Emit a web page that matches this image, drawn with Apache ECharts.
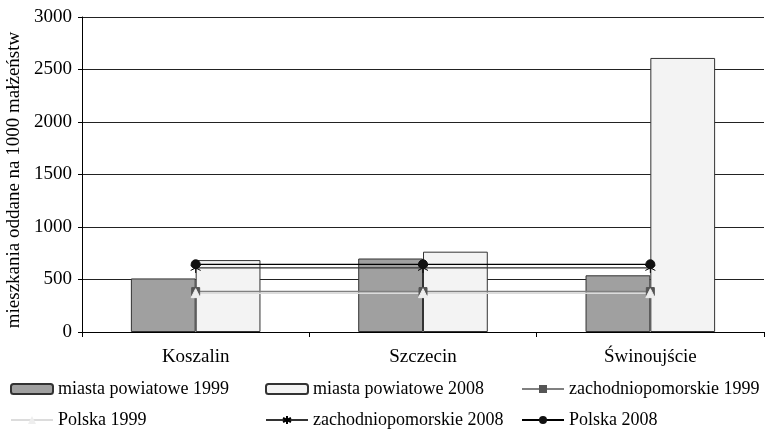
<!DOCTYPE html>
<html><head><meta charset="utf-8">
<script src="https://cdn.jsdelivr.net/npm/echarts@6/dist/echarts.min.js"></script>
<style>html,body{margin:0;padding:0;background:#fff}#c{width:765px;height:430px}</style>
</head><body><div id="c"></div>
<script>
const categories = ['Koszalin', 'Szczecin', 'Świnoujście'];
const miasta1999 = [510, 700, 540];
const miasta2008 = [685, 765, 2610];
const zach1999 = [385, 385, 385];
const polska1999 = [370, 370, 370];
const zach2008 = [610, 610, 610];
const polska2008 = [645, 645, 645];
const yTicks = [0, 500, 1000, 1500, 2000, 2500, 3000];

const FONT = 'Liberation Serif';
const chart = echarts.init(document.getElementById('c'), null, {renderer: 'canvas'});
const star = 'path://M0,-5L0,5M-4.33,-2.5L4.33,2.5M-4.33,2.5L4.33,-2.5';
const legendText = {fontFamily: FONT, fontSize: 18, color: '#000'};
function legendItem(left, top, name) {
  return {orient: 'horizontal', left: left, top: top, padding: 0, itemWidth: 42, itemHeight: 10,
    itemGap: 0, itemTextGap: 5, textStyle: legendText, data: [name], selectedMode: false};
}
chart.setOption({
  animation: false,
  textStyle: {fontFamily: FONT},
  grid: {left: 82, right: 1, top: 17, bottom: 98, containLabel: false, outerBoundsMode: 'none'},
  legend: [
    legendItem(10, 380, 'miasta powiatowe 1999'),
    legendItem(265, 380, 'miasta powiatowe 2008'),
    legendItem(521, 380, 'zachodniopomorskie 1999'),
    legendItem(10, 411, 'Polska 1999'),
    legendItem(265, 411, 'zachodniopomorskie 2008'),
    legendItem(521, 411, 'Polska 2008')
  ],
  xAxis: {
    type: 'category', data: categories, boundaryGap: true,
    axisLine: {lineStyle: {color: '#000', width: 1}},
    axisTick: {show: true, length: 5, lineStyle: {color: '#000'}},
    axisLabel: {fontFamily: FONT, fontSize: 19, color: '#000', margin: 16}
  },
  yAxis: {
    type: 'value', min: yTicks[0], max: yTicks[yTicks.length - 1], interval: 500,
    name: 'mieszkania oddane na 1000 małżeństw', nameLocation: 'middle', nameGap: 43,
    nameTextStyle: {fontFamily: FONT, fontSize: 19, color: '#000', padding: [0, 11, 0, 0]},
    axisLine: {show: true, lineStyle: {color: '#000'}},
    axisTick: {show: true, length: 4, lineStyle: {color: '#000'}},
    axisLabel: {fontFamily: FONT, fontSize: 19, color: '#000', margin: 10, formatter: v => String(v)},
    splitLine: {show: true, lineStyle: {color: '#222', width: 1}}
  },
  series: [
    {name: 'miasta powiatowe 1999', type: 'bar', data: miasta1999, barGap: '0%', barCategoryGap: '43%',
      itemStyle: {color: '#a0a0a0', borderColor: '#333', borderWidth: 1}},
    {name: 'miasta powiatowe 2008', type: 'bar', data: miasta2008, barGap: '0%', barCategoryGap: '43%',
      itemStyle: {color: '#f3f3f3', borderColor: '#333', borderWidth: 1}},
    {name: 'zachodniopomorskie 1999', type: 'line', data: zach1999, symbol: 'rect', symbolSize: 8,
      lineStyle: {color: '#808080', width: 1.5}, itemStyle: {color: '#555', borderColor: '#555'}},
    {name: 'Polska 1999', type: 'line', data: polska1999, symbol: 'triangle', symbolSize: 9,
      lineStyle: {color: '#dcdcdc', width: 1.5}, itemStyle: {color: '#eeeeee', borderColor: '#eeeeee'}},
    {name: 'zachodniopomorskie 2008', type: 'line', data: zach2008, symbol: star, symbolSize: 10,
      lineStyle: {color: '#333', width: 1.2}, itemStyle: {color: '#000', borderColor: '#000', borderWidth: 1}},
    {name: 'Polska 2008', type: 'line', data: polska2008, symbol: 'circle', symbolSize: 9,
      lineStyle: {color: '#000', width: 1.2}, itemStyle: {color: '#111', borderColor: '#111'}}
  ]
});
</script></body></html>
